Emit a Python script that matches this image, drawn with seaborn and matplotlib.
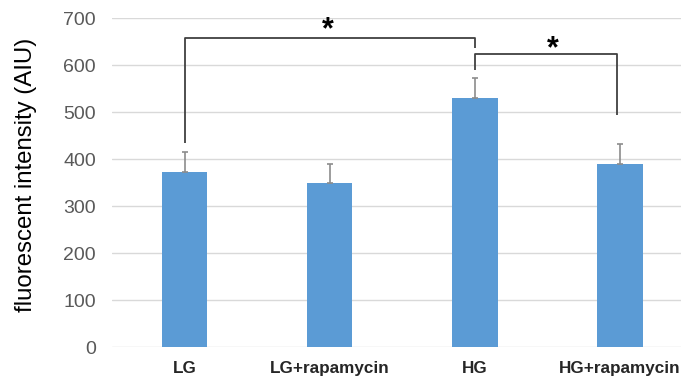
import matplotlib
matplotlib.use("Agg")
import matplotlib.pyplot as plt
import seaborn as sns
import pandas as pd

# values
groups = ["LG", "LG+rapamycin", "HG", "HG+rapamycin"]
means = [374, 349, 531, 391]
errors = [42, 41, 43, 41]

# significance brackets: (left x, right x, top level, left drop, right drop)
brackets = [(0, 2, 659, 434, 636), (2, 2.98, 624, 591, 494)]
star_pos = [(0.99, 674), (2.54, 635)]

BLUE = "#5B9BD5"

sns.set_theme(style="white")
plt.rcParams["font.family"] = ["Liberation Sans", "DejaVu Sans"]

df = pd.DataFrame({"group": groups, "value": means})

fig = plt.figure(figsize=(6.81, 3.76), dpi=100)
ax = fig.add_axes([0.1645, 0.0763, 0.8355, 0.875])

sns.barplot(data=df, x="group", y="value", color=BLUE, width=0.313,
            saturation=1, linewidth=0, ax=ax, zorder=3)

# upper-only error bars
ax.errorbar(range(len(groups)), means, yerr=[[0] * len(errors), errors],
            fmt="none", ecolor="#8c8c8c", elinewidth=1.2, capsize=2.3,
            capthick=1.2, zorder=4)

for x0, x1, top, d0, d1 in brackets:
    ax.plot([x0, x0, x1, x1], [d0, top, top, d1], color="#404040", lw=1.3,
            zorder=5, solid_capstyle="butt")

for sx, sy in star_pos:
    ax.text(sx, sy, "*", ha="center", va="center", fontsize=22,
            fontweight="bold", color="black")

ax.set_ylim(0, 700)
ax.set_xlim(-0.5, 3.42)
ax.set_yticks(range(0, 701, 100))
ax.yaxis.grid(True, color="#d9d9d9", lw=1)
ax.set_axisbelow(True)
for s in ax.spines.values():
    s.set_visible(False)

ax.tick_params(axis="y", length=0, pad=11.5, labelsize=14, labelcolor="#595959")
ax.tick_params(axis="x", length=0, pad=10, labelsize=12.3, labelcolor="#262626")
for lab in ax.get_xticklabels():
    lab.set_fontweight("bold")

ax.set_xlabel("")
ax.set_ylabel("fluorescent intensity (AIU)", fontsize=17.3, color="black")
ax.yaxis.set_label_coords(-0.132, 0.524)

fig.savefig("out.png", dpi=100)
